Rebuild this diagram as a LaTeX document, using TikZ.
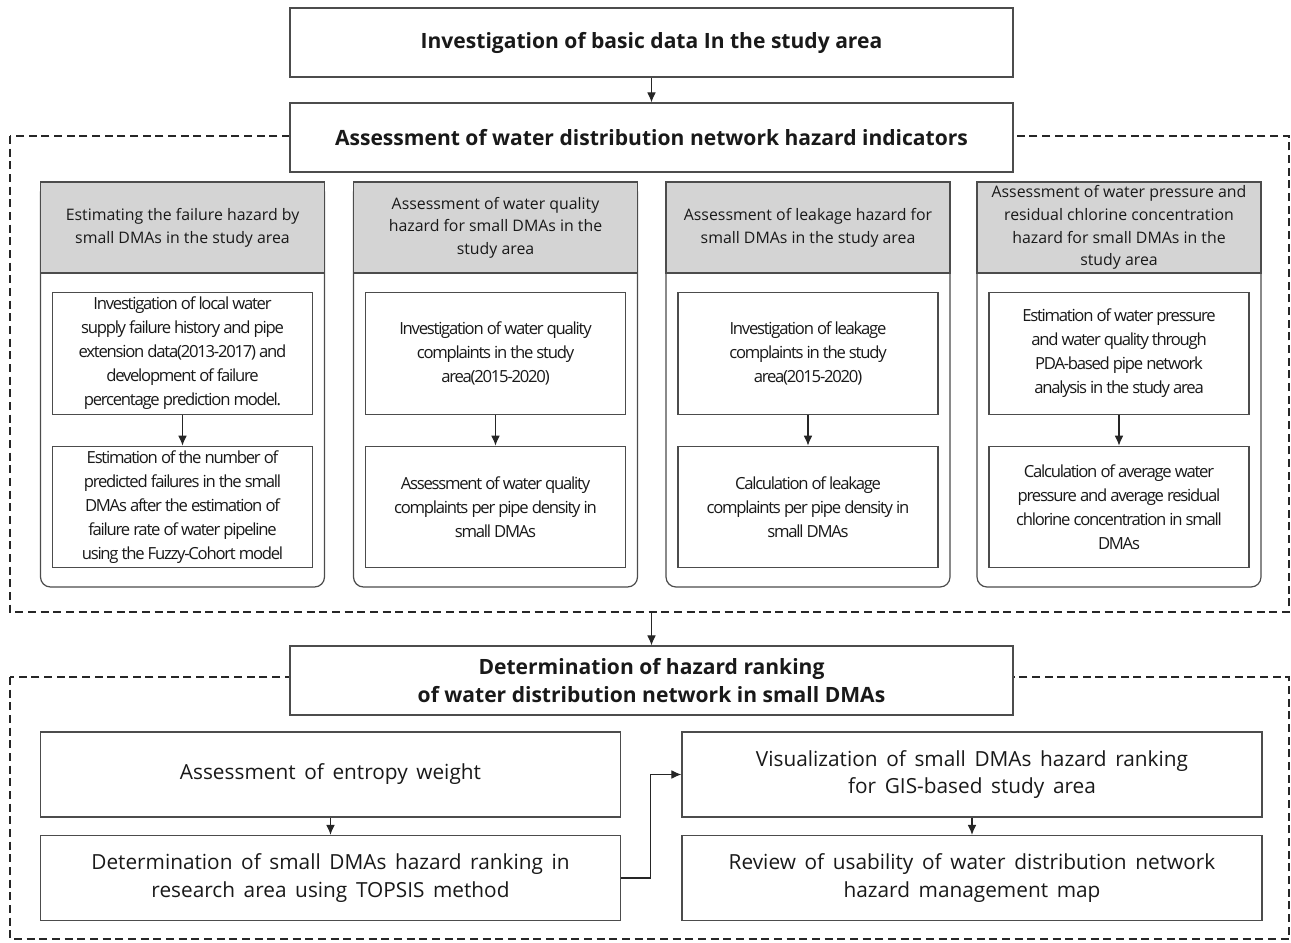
\documentclass[tikz,border=0pt]{standalone}
\usepackage{fontspec}
\setmainfont{Open Sans}
\newfontfamily\tightfont[LetterSpace=-7.5]{Open Sans}
\newfontfamily\widefont[WordSpace=1.6]{Open Sans}
\usetikzlibrary{arrows.meta}

\begin{document}
\begin{tikzpicture}[x=0.75pt,y=-0.75pt,
  box/.style={draw=black!70, line width=0.9pt, fill=white, align=center, inner sep=0pt, text=black!90},
  mainbox/.style={box, minimum width=723*0.75pt, minimum height=69*0.75pt,
    font=\bfseries\fontsize{15.8}{20.5}\selectfont},
  colbox/.style={draw=black!70, line width=0.9pt, rounded corners=7.5pt,
    minimum width=284*0.75pt, minimum height=405*0.75pt, inner sep=0pt},
  hdr/.style={box, fill=black!17, minimum width=284*0.75pt, minimum height=91*0.75pt,
    font=\fontsize{11.9}{17}\selectfont},
  inbox/.style={box, minimum width=260*0.75pt, minimum height=121.5*0.75pt,
    font=\tightfont\fontsize{12.5}{18}\selectfont},
  lowbox/.style={box, minimum width=580*0.75pt, minimum height=85*0.75pt,
    font=\widefont\fontsize{15.6}{20.5}\selectfont},
  frame/.style={draw=black!85, line width=1.1pt, dash pattern=on 6pt off 3.5pt},
  arr/.style={draw=black!85, line width=0.8pt, -{Latex[length=7.5pt,width=6.5pt]}}]

\useasboundingbox (0,0) rectangle (1291,942);

% dashed frames
\draw[frame] (10,136) rectangle (1289,612);
\draw[frame] (10,677) rectangle (1289,939);
\coordinate (f1s) at (651.5,612);

% top row
\node[mainbox] (basic) at (651.5,42.5) {Investigation of basic data In the study area};
\node[mainbox] (assess) at (651.5,137.5) {Assessment of water distribution network hazard indicators};
\draw[arr] (basic) -- (assess);

% column 1: failure
\node[colbox] (c1) at (182.5,384.5) {};
\node[hdr] (h1) at (182.5,227.5) {Estimating the failure hazard by\\small DMAs in the study area};
\node[inbox] (c1a) at (182.5,353.5) {Investigation of local water\\supply failure history and pipe\\extension data(2013-2017) and\\development of failure\\percentage prediction model.};
\node[inbox] (c1b) at (182.5,507) {Estimation of the number of\\predicted failures in the small\\DMAs after the estimation of\\failure rate of water pipeline\\using the Fuzzy-Cohort model};
\draw[arr] (c1a) -- (c1b);

% column 2: water quality
\node[colbox] (c2) at (495.5,384.5) {};
\node[hdr] (h2) at (495.5,227.5) {Assessment of water quality\\hazard for small DMAs in the\\study area};
\node[inbox] (c2a) at (495.5,353.5) {Investigation of water quality\\complaints in the study\\area(2015-2020)};
\node[inbox] (c2b) at (495.5,507) {Assessment of water quality\\complaints per pipe density in\\small DMAs};
\draw[arr] (c2a) -- (c2b);

% column 3: leakage
\node[colbox] (c3) at (808,384.5) {};
\node[hdr] (h3) at (808,227.5) {Assessment of leakage hazard for\\small DMAs in the study area};
\node[inbox] (c3a) at (808,353.5) {Investigation of leakage\\complaints in the study\\area(2015-2020)};
\node[inbox] (c3b) at (808,507) {Calculation of leakage\\complaints per pipe density in\\small DMAs};
\draw[arr] (c3a) -- (c3b);

% column 4: pressure and chlorine
\node[colbox] (c4) at (1119,384.5) {};
\node[hdr] (h4) at (1119,227.5) {Assessment of water pressure and\\residual chlorine concentration\\hazard for small DMAs in the\\study area};
\node[inbox] (c4a) at (1119,353.5) {Estimation of water pressure\\and water quality through\\PDA-based pipe network\\analysis in the study area};
\node[inbox] (c4b) at (1119,507) {Calculation of average water\\pressure and average residual\\chlorine concentration in small\\DMAs};
\draw[arr] (c4a) -- (c4b);

% ranking
\node[mainbox] (rank) at (651.5,680.5) {Determination of hazard ranking\\of water distribution network in small DMAs};
\draw[arr] (f1s) -- (rank);

\node[lowbox] (entropy) at (330.5,774.5) {Assessment of entropy weight};
\node[lowbox] (topsis) at (330.5,878) {Determination of small DMAs hazard ranking in\\research area using TOPSIS method};
\node[lowbox] (gis) at (972,774.5) {Visualization of small DMAs hazard ranking\\for GIS-based study area};
\node[lowbox] (review) at (972,878) {Review of usability of water distribution network\\hazard management map};
\draw[arr] (entropy) -- (topsis);
\draw[arr] (gis) -- (review);
\draw[arr] (topsis.east) -- ++(29,0) |- (gis.west);

\end{tikzpicture}
\end{document}
